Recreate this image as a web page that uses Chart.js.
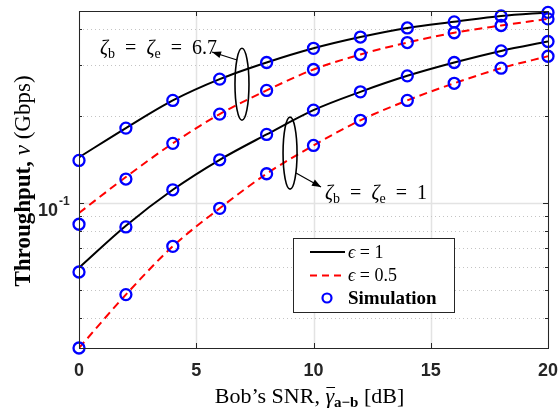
<!DOCTYPE html>
<html>
<head>
<meta charset="utf-8">
<script src="https://cdn.jsdelivr.net/npm/chart.js@4.4.0/dist/chart.umd.min.js"></script>
<style>
  html, body { margin: 0; padding: 0; background: #fff; }
  #wrap { width: 558px; height: 412px; }
</style>
</head>
<body>
<div id="wrap"><canvas id="chart" width="558" height="412"></canvas></div>
<script>
// Bob's SNR [dB]
const snrDb = [0, 2, 4, 6, 8, 10, 12, 14, 16, 18, 20];

// Simulation points (Gbps)
const simZ67Eps1 = [0.1403, 0.1814, 0.226, 0.2677, 0.3055, 0.342, 0.374, 0.402, 0.422, 0.442, 0.455];
const simZ67Eps05 = [0.0845, 0.121, 0.1607, 0.2027, 0.2447, 0.289, 0.3256, 0.358, 0.387, 0.41, 0.432];
const simZ1Eps1 = [0.0578, 0.0827, 0.1111, 0.141, 0.1725, 0.2093, 0.242, 0.2748, 0.3055, 0.335, 0.361];
const simZ1Eps05 = [0.0316, 0.0483, 0.0709, 0.0959, 0.1262, 0.158, 0.193, 0.226, 0.259, 0.292, 0.321];

// Analytical curves (Gbps)
const anaZ67Eps1 = [0.1438, 0.1814, 0.226, 0.2677, 0.3055, 0.342, 0.374, 0.402, 0.422, 0.442, 0.455];
const anaZ67Eps05 = [0.0924, 0.123, 0.1607, 0.2027, 0.2447, 0.289, 0.3256, 0.358, 0.387, 0.41, 0.432];
const anaZ1Eps1 = [0.0598, 0.0835, 0.1111, 0.141, 0.1725, 0.2093, 0.242, 0.2748, 0.3055, 0.335, 0.361];
const anaZ1Eps05 = [0.0316, 0.0483, 0.0709, 0.0959, 0.1262, 0.158, 0.193, 0.226, 0.259, 0.292, 0.321];

const xTicks = [0, 5, 10, 15, 20];
const yMajorTicks = [0.1];
const yMinorTicks = [0.04, 0.05, 0.06, 0.07, 0.08, 0.09, 0.2, 0.3, 0.4];

const SERIF = "'Liberation Serif', 'Times New Roman', serif";
const SANS = "'Liberation Sans', Arial, sans-serif";
const AXIS = "#262626";

function pts(ys) {
  return snrDb.map((x, i) => ({ x: x, y: ys[i] }));
}

// draw a run of differently styled text pieces
function textRun(ctx, x, y, parts, align) {
  let w = 0;
  parts.forEach((p) => {
    ctx.font = p.f;
    p.w = ctx.measureText(p.t).width;
    w += p.w;
  });
  let cx = align === "center" ? x - w / 2 : x;
  parts.forEach((p) => {
    ctx.font = p.f;
    ctx.fillText(p.t, cx, y + (p.dy || 0));
    p.x = cx;
    cx += p.w;
  });
  return parts;
}

function arrow(ctx, x1, y1, x2, y2) {
  ctx.beginPath();
  ctx.moveTo(x1, y1);
  ctx.lineTo(x2, y2);
  ctx.stroke();
  const a = Math.atan2(y2 - y1, x2 - x1);
  const L = 9, W = 3.5;
  ctx.beginPath();
  ctx.moveTo(x2, y2);
  ctx.lineTo(x2 - L * Math.cos(a) + W * Math.sin(a), y2 - L * Math.sin(a) - W * Math.cos(a));
  ctx.lineTo(x2 - L * Math.cos(a) - W * Math.sin(a), y2 - L * Math.sin(a) + W * Math.cos(a));
  ctx.closePath();
  ctx.fill();
}

const gridPlugin = {
  id: "matlabGrid",
  beforeDatasetsDraw(chart) {
    const { ctx, chartArea: a, scales } = chart;
    const xs = scales.x, ys = scales.y;
    ctx.save();
    // major grid
    ctx.strokeStyle = "#e3e3e3";
    ctx.lineWidth = 1.5;
    xTicks.forEach((v) => {
      const px = Math.round(xs.getPixelForValue(v)) + 0.5;
      ctx.beginPath(); ctx.moveTo(px, a.top); ctx.lineTo(px, a.bottom); ctx.stroke();
    });
    yMajorTicks.forEach((v) => {
      const py = Math.round(ys.getPixelForValue(v)) + 0.5;
      ctx.beginPath(); ctx.moveTo(a.left, py); ctx.lineTo(a.right, py); ctx.stroke();
    });
    // minor grid, dotted
    ctx.strokeStyle = "#c4c4c4";
    ctx.lineWidth = 1;
    ctx.setLineDash([1, 3]);
    yMinorTicks.forEach((v) => {
      const py = Math.round(ys.getPixelForValue(v)) + 0.5;
      ctx.beginPath(); ctx.moveTo(a.left, py); ctx.lineTo(a.right, py); ctx.stroke();
    });
    ctx.restore();
  },
  afterDatasetsDraw(chart) {
    const { ctx, chartArea: a, scales } = chart;
    const xs = scales.x, ys = scales.y;
    ctx.save();
    // frame
    ctx.strokeStyle = AXIS;
    ctx.lineWidth = 1;
    ctx.strokeRect(Math.round(a.left) + 0.5, Math.round(a.top) + 0.5,
      Math.round(a.right - a.left), Math.round(a.bottom - a.top));
    // inward ticks
    ctx.beginPath();
    xTicks.forEach((v) => {
      const px = Math.round(xs.getPixelForValue(v)) + 0.5;
      ctx.moveTo(px, a.bottom); ctx.lineTo(px, a.bottom - 5);
      ctx.moveTo(px, a.top); ctx.lineTo(px, a.top + 5);
    });
    yMajorTicks.concat(yMinorTicks).forEach((v) => {
      const py = Math.round(ys.getPixelForValue(v)) + 0.5;
      const len = yMajorTicks.includes(v) ? 5 : 3;
      ctx.moveTo(a.left, py); ctx.lineTo(a.left + len, py);
      ctx.moveTo(a.right, py); ctx.lineTo(a.right - len, py);
    });
    ctx.stroke();

    // tick labels
    ctx.fillStyle = AXIS;
    ctx.textAlign = "center";
    ctx.textBaseline = "middle";
    ctx.font = "bold 18px " + SANS;
    xTicks.forEach((v) => {
      ctx.fillText(String(v), xs.getPixelForValue(v), a.bottom + 23);
    });
    yMajorTicks.forEach((v) => {
      const py = ys.getPixelForValue(v);
      ctx.textAlign = "left";
      ctx.textBaseline = "alphabetic";
      ctx.font = "bold 18px " + SANS;
      ctx.fillText("10", 38, py + 13);
      ctx.font = "bold 12px " + SANS;
      ctx.fillText("-1", 59, py + 2);
    });

    // axis titles
    ctx.fillStyle = "#000";
    ctx.textAlign = "left";
    ctx.textBaseline = "alphabetic";
    const cx = (a.left + a.right) / 2;
    const xt = textRun(ctx, cx - 4, 403, [
      { t: "Bob\u2019s SNR, ", f: "22px " + SERIF },
      { t: "\u03b3", f: "italic 22px " + SERIF },
      { t: "a\u2212b", f: "bold 15px " + SERIF, dy: 4 },
      { t: " [dB]", f: "22px " + SERIF },
    ], "center");
    ctx.lineWidth = 1;
    ctx.strokeStyle = "#000";
    ctx.beginPath();
    ctx.moveTo(xt[1].x + 1, 387.5);
    ctx.lineTo(xt[1].x + xt[1].w + 1, 387.5);
    ctx.stroke();

    ctx.save();
    ctx.translate(30, 181);
    ctx.rotate(-Math.PI / 2);
    textRun(ctx, 0, 0, [
      { t: "Throughput, ", f: "bold 23px " + SERIF },
      { t: "\u03bd", f: "italic 23px " + SERIF },
      { t: " (Gbps)", f: "23px " + SERIF },
    ], "center");
    ctx.restore();

    // annotations
    ctx.strokeStyle = "#000";
    ctx.lineWidth = 1.6;
    ctx.beginPath();
    ctx.ellipse(xs.getPixelForValue(6.95), ys.getPixelForValue(0.257), 7, 36, 0, 0, Math.PI * 2);
    ctx.stroke();
    ctx.beginPath();
    ctx.ellipse(xs.getPixelForValue(9.0), ys.getPixelForValue(0.1487), 7, 36, 0, 0, Math.PI * 2);
    ctx.stroke();
    ctx.fillStyle = "#000";
    ctx.lineWidth = 1.2;
    arrow(ctx, 237, 60, 212, 52);
    arrow(ctx, 296, 173, 321, 187);

    const zeta = (val) => [
      { t: "\u03b6", f: "italic 20px " + SERIF },
      { t: "b", f: "14px " + SERIF, dy: 4 },
      { t: "  =  ", f: "20px " + SERIF },
      { t: "\u03b6", f: "italic 20px " + SERIF },
      { t: "e", f: "14px " + SERIF, dy: 4 },
      { t: "  =  " + val, f: "20px " + SERIF },
    ];
    textRun(ctx, 100, 54, zeta("6.7"), "left");
    textRun(ctx, 325, 199, zeta("1"), "left");

    // legend
    ctx.fillStyle = "#fff";
    ctx.fillRect(293.5, 238.5, 161, 74);
    ctx.strokeStyle = AXIS;
    ctx.lineWidth = 1;
    ctx.strokeRect(293.5, 238.5, 161, 74);
    ctx.lineWidth = 2;
    ctx.strokeStyle = "#000";
    ctx.beginPath(); ctx.moveTo(310, 252); ctx.lineTo(345, 252); ctx.stroke();
    ctx.strokeStyle = "#ff0000";
    ctx.setLineDash([7, 5]);
    ctx.beginPath(); ctx.moveTo(310, 275.5); ctx.lineTo(345, 275.5); ctx.stroke();
    ctx.setLineDash([]);
    ctx.strokeStyle = "#0000ff";
    ctx.lineWidth = 2.2;
    ctx.beginPath(); ctx.arc(327, 298, 4.5, 0, Math.PI * 2); ctx.stroke();
    ctx.fillStyle = "#000";
    textRun(ctx, 348, 258, [
      { t: "\u03f5", f: "italic 18px " + SERIF },
      { t: " = 1", f: "18px " + SERIF },
    ], "left");
    textRun(ctx, 348, 281, [
      { t: "\u03f5", f: "italic 18px " + SERIF },
      { t: " = 0.5", f: "18px " + SERIF },
    ], "left");
    textRun(ctx, 348, 304, [{ t: "Simulation", f: "bold 19px " + SERIF }], "left");
    ctx.restore();
  },
};

const lineStyle = (color, dash) => ({
  borderColor: color,
  borderWidth: 2,
  borderDash: dash,
  pointRadius: 0,
  fill: false,
  cubicInterpolationMode: "monotone",
  order: 2,
});

const simStyle = {
  showLine: false,
  pointRadius: 5.5,
  pointBorderWidth: 2.3,
  pointBorderColor: "#0000ff",
  pointBackgroundColor: "rgba(0,0,0,0)",
  clip: false,
  order: 1,
};

new Chart(document.getElementById("chart"), {
  type: "line",
  data: {
    datasets: [
      Object.assign({ label: "z67 eps1", data: pts(anaZ67Eps1) }, lineStyle("#000000", [])),
      Object.assign({ label: "z67 eps05", data: pts(anaZ67Eps05) }, lineStyle("#ff0000", [8, 5])),
      Object.assign({ label: "z1 eps1", data: pts(anaZ1Eps1) }, lineStyle("#000000", [])),
      Object.assign({ label: "z1 eps05", data: pts(anaZ1Eps05) }, lineStyle("#ff0000", [8, 5])),
      Object.assign({ label: "sim1", data: pts(simZ67Eps1) }, simStyle),
      Object.assign({ label: "sim2", data: pts(simZ67Eps05) }, simStyle),
      Object.assign({ label: "sim3", data: pts(simZ1Eps1) }, simStyle),
      Object.assign({ label: "sim4", data: pts(simZ1Eps05) }, simStyle),
    ],
  },
  options: {
    responsive: false,
    animation: false,
    layout: { padding: { top: 11, right: 10, left: 0, bottom: 0 } },
    plugins: { legend: { display: false }, tooltip: { enabled: false } },
    scales: {
      x: {
        type: "linear",
        min: 0,
        max: 20,
        ticks: { display: false },
        grid: { display: false, drawTicks: false },
        border: { display: false },
        afterFit: (s) => { s.height = 64; },
      },
      y: {
        type: "logarithmic",
        min: 0.0316,
        max: 0.46,
        ticks: { display: false },
        grid: { display: false, drawTicks: false },
        border: { display: false },
        afterFit: (s) => { s.width = 79; },
      },
    },
  },
  plugins: [gridPlugin],
});
</script>
</body>
</html>
